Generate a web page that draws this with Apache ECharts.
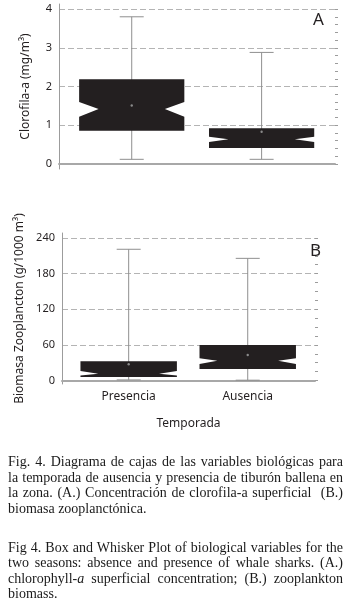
<!DOCTYPE html>
<html>
<head>
<meta charset="utf-8">
<script src="https://cdn.jsdelivr.net/npm/echarts@6/dist/echarts.min.js"></script>
<style>
  html, body { margin: 0; padding: 0; background: #fff; }
  #chart { width: 352px; height: 611px; }
  .caption {
    position: absolute; left: 8px; width: 335px;
    font-family: "Liberation Serif", "DejaVu Serif", serif;
    font-size: 14px; line-height: 15.5px; color: #1a1a1a;
  }
  .caption span { display: block; white-space: nowrap; text-align: justify; text-align-last: justify; }
  .caption span.last { text-align-last: left; }
</style>
</head>
<body>
<div id="chart"></div>
<div class="caption" style="top:454px">
  <span>Fig. 4. Diagrama de cajas de las variables biológicas para</span>
  <span>la temporada de ausencia y presencia de tiburón ballena en</span>
  <span>la zona. (A.) Concentración de clorofila-a superficial &nbsp;(B.)</span>
  <span class="last">biomasa zooplanctónica.</span>
</div>
<div class="caption" style="top:539.5px">
  <span>Fig 4. Box and Whisker Plot of biological variables for the</span>
  <span>two seasons: absence and presence of whale sharks. (A.)</span>
  <span>chlorophyll-<i>a</i> superficial concentration; (B.) zooplankton</span>
  <span class="last">biomass.</span>
</div>
<script>
const categories = ['Presencia', 'Ausencia'];

// A: clorofila-a (mg/m3)
const chlWhiskerLow = [0.12, 0.12];
const chlQ1 = [0.86, 0.41];
const chlNotchLow = [1.22, 0.57];
const chlMedian = [1.42, 0.64];
const chlNotchHigh = [1.60, 0.70];
const chlQ3 = [2.19, 0.92];
const chlWhiskerHigh = [3.80, 2.88];
const chlMean = [1.51, 0.83];
const chlTicks = [0, 1, 2, 3, 4];

// B: biomasa zooplancton (g/1000 m3)
const zooWhiskerLow = [1, 0.5];
const zooQ1 = [5.9, 19.4];
const zooNotchLow = [8.4, 27.8];
const zooMedian = [11.4, 33.3];
const zooNotchHigh = [16, 37.4];
const zooQ3 = [32.3, 59.8];
const zooWhiskerHigh = [221, 205.7];
const zooMean = [27.3, 42.9];
const zooTicks = [0, 60, 120, 180, 240];

function steps(from, to, step) {
  const out = [];
  for (let v = from; v <= to + 1e-9; v += step) out.push(Math.round(v * 1000) / 1000);
  return out;
}
const chlMinor = steps(0, 4, 0.2);
const zooMinor = steps(0, 240, 15);

function rows(low, q1, nlo, med, nhi, q3, high, mean) {
  return categories.map((c, i) => [i + 1, low[i], q1[i], nlo[i], med[i], nhi[i], q3[i], high[i], mean[i]]);
}

const HALF = 0.405;      // half box width, x units
const NOTCH = 0.185;     // notch depth as part of box width
const BOX = '#231f20';
const WHISK = '#8f8f8f';
const AXIS = '#9c9c9c';
const TEXT = '#231f20';
const FONT = 'Noto Sans';

function renderBox(params, api) {
  const x = api.value(0);
  const y = (i) => api.coord([x, api.value(i)])[1];
  const cx = api.coord([x, 0])[0];
  const left = api.coord([x - HALF, 0])[0];
  const right = api.coord([x + HALF, 0])[0];
  const d = (right - left) * NOTCH;
  const yLow = y(1), yQ1 = y(2), yNlo = y(3), yMed = y(4), yNhi = y(5), yQ3 = y(6), yHigh = y(7), yMean = y(8);
  const ws = { stroke: WHISK, lineWidth: 1 };
  return {
    type: 'group',
    children: [
      { type: 'line', shape: { x1: cx, y1: yHigh, x2: cx, y2: yLow }, style: ws },
      { type: 'line', shape: { x1: cx - 12, y1: yHigh, x2: cx + 12, y2: yHigh }, style: ws },
      { type: 'line', shape: { x1: cx - 12, y1: yLow, x2: cx + 12, y2: yLow }, style: ws },
      {
        type: 'polygon',
        shape: {
          points: [
            [left, yQ3], [right, yQ3], [right, yNhi], [right - d, yMed], [right, yNlo],
            [right, yQ1], [left, yQ1], [left, yNlo], [left + d, yMed], [left, yNhi]
          ]
        },
        style: { fill: BOX }
      },
      { type: 'circle', shape: { cx: cx, cy: yMean, r: 1.2 }, style: { fill: '#8a8a8a' } }
    ]
  };
}

function mainY(grid, min, max, ticks, name, gap) {
  return {
    gridIndex: grid, type: 'value', min: min, max: max,
    name: name, nameLocation: 'middle', nameGap: gap,
    nameTextStyle: { fontFamily: FONT, fontSize: 12, color: TEXT },
    axisLine: { show: true, lineStyle: { color: AXIS, width: 1 } },
    axisTick: { show: false, customValues: ticks },
    axisLabel: { customValues: ticks, fontFamily: FONT, fontSize: 11, color: TEXT, margin: 7 },
    splitLine: { show: true, lineStyle: { color: '#b4b4b4', type: [6, 3], width: 1 } }
  };
}
function minorY(grid, min, max, ticks) {
  return {
    gridIndex: grid, type: 'value', min: min, max: max,
    axisLine: { show: false },
    axisTick: { show: true, customValues: ticks, length: 3, lineStyle: { color: AXIS } },
    axisLabel: { show: false },
    splitLine: { show: false }
  };
}
function catX(grid, showLabels) {
  return {
    gridIndex: grid, type: 'value', min: 0.44, max: 2.565,
    axisLine: { show: true, lineStyle: { color: '#a8a8a8', width: 2 } },
    axisTick: { show: false },
    splitLine: { show: false },
    axisLabel: {
      show: showLabels, customValues: [1, 2],
      formatter: (v) => categories[Math.round(v) - 1],
      fontFamily: FONT, fontSize: 12, color: TEXT, margin: 7
    },
    name: showLabels ? 'Temporada' : '', nameLocation: 'middle', nameGap: 34,
    nameTextStyle: { fontFamily: FONT, fontSize: 12, color: TEXT }
  };
}

const chart = echarts.init(document.getElementById('chart'));
chart.setOption({
  animation: false,
  backgroundColor: '#fff',
  grid: [
    { left: 59, top: 4, width: 276, height: 165 },
    { left: 62, top: 233, width: 253, height: 151 }
  ],
  xAxis: [catX(0, false), catX(1, true)],
  yAxis: [
    mainY(0, -0.13, 4.13, chlTicks, 'Clorofila-a (mg/m³)', 27),
    minorY(0, -0.13, 4.13, chlMinor),
    mainY(1, -5.9, 248.4, zooTicks, 'Biomasa Zooplancton (g/1000 m³)', 35),
    minorY(1, -5.9, 248.4, zooMinor)
  ],
  graphic: [
    { type: 'text', left: 313, top: 12, style: { text: 'A', font: '17px "Noto Sans"', fill: TEXT } },
    { type: 'text', left: 310, top: 243, style: { text: 'B', font: '17px "Noto Sans"', fill: TEXT } }
  ],
  series: [
    {
      type: 'custom', xAxisIndex: 0, yAxisIndex: 0,
      renderItem: renderBox,
      encode: { x: 0, y: [1, 7] },
      data: rows(chlWhiskerLow, chlQ1, chlNotchLow, chlMedian, chlNotchHigh, chlQ3, chlWhiskerHigh, chlMean)
    },
    {
      type: 'custom', xAxisIndex: 1, yAxisIndex: 2,
      renderItem: renderBox,
      encode: { x: 0, y: [1, 7] },
      data: rows(zooWhiskerLow, zooQ1, zooNotchLow, zooMedian, zooNotchHigh, zooQ3, zooWhiskerHigh, zooMean)
    }
  ]
});
</script>
</body>
</html>
